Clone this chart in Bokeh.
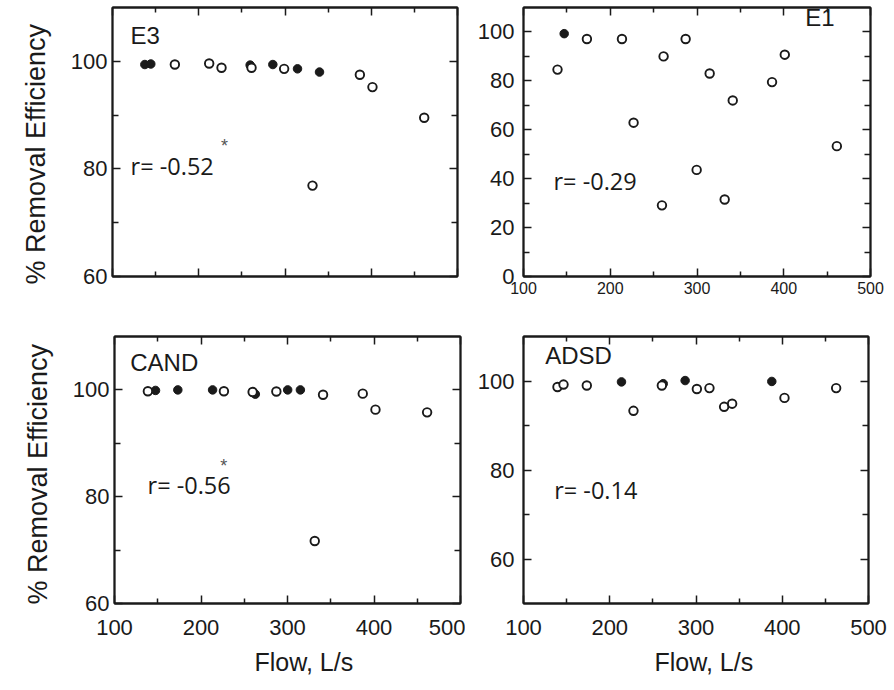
from bokeh.plotting import figure
from bokeh.layouts import column, row
from bokeh.models import FixedTicker, LinearAxis, Label, CustomJSTickFormatter, Title
from bokeh.embed import file_html
from bokeh.resources import INLINE

# ---------------- data ----------------
e3_filled_flow = [137.5, 144.4, 259.6, 285.9, 314.5, 340.0]
e3_filled_eff = [99.4, 99.5, 99.3, 99.4, 98.6, 98.0]
e3_open_flow = [172.3, 212.1, 226.4, 261.2, 299.0, 331.9, 386.8, 401.4, 461.4]
e3_open_eff = [99.4, 99.6, 98.8, 98.8, 98.6, 76.9, 97.5, 95.2, 89.5]

e1_filled_flow = [146.9]
e1_filled_eff = [99.3]
e1_open_flow = [139.2, 173.1, 213.5, 226.9, 259.6, 261.5, 286.9, 299.6, 314.6,
                331.9, 341.2, 386.5, 401.2, 461.2]
e1_open_eff = [84.6, 97.1, 97.1, 62.9, 29.1, 90.0, 97.1, 43.6, 83.0,
               31.5, 72.0, 79.5, 90.7, 53.3]

cand_filled_flow = [147.4, 173.2, 213.4, 262.8, 300.2, 314.9]
cand_filled_eff = [99.9, 100.0, 100.0, 99.2, 100.0, 100.0]
cand_open_flow = [138.6, 226.5, 259.7, 287.1, 331.5, 341.1, 387.0, 401.7, 461.4]
cand_open_eff = [99.75, 99.75, 99.6, 99.7, 71.7, 99.1, 99.3, 96.3, 95.8]

adsd_filled_flow = [213.6, 262.0, 287.4, 387.9]
adsd_filled_eff = [99.8, 99.4, 100.1, 99.9]
adsd_open_flow = [139.4, 146.4, 173.4, 227.5, 260.4, 301.0, 315.6, 332.6, 341.9, 402.6, 462.5]
adsd_open_eff = [98.65, 99.2, 99.0, 93.3, 99.0, 98.2, 98.4, 94.2, 94.9, 96.2, 98.4]

x_major = [100, 200, 300, 400, 500]
x_minor = [150, 250, 350, 450]

FONT = "Liberation Sans"
BLACK = "#1a1a1a"
LW = 1.8


def make_panel(width, height, lb, rb, tb, bb, ymin, ymajor, yminor,
               xlabels, xlabel_size, xlabel_standoff, xtitle, xtitle_offset,
               ytitle, ytitle_offset):
    p = figure(width=width, height=height, x_range=(100, 500), y_range=(ymin, 110),
               output_backend="svg", toolbar_location=None,
               min_border_left=lb, min_border_right=rb,
               min_border_top=tb, min_border_bottom=bb)
    p.grid.visible = False
    p.outline_line_color = BLACK
    p.outline_line_width = LW
    p.background_fill_color = "white"
    p.border_fill_color = "white"

    xt = FixedTicker(ticks=x_major, minor_ticks=x_minor)
    yt = FixedTicker(ticks=ymajor, minor_ticks=yminor)

    for ax in p.xaxis:
        ax.ticker = xt
        ax.axis_line_color = BLACK
        ax.axis_line_width = LW
        ax.major_tick_in = 8
        ax.major_tick_out = 0
        ax.minor_tick_in = 5
        ax.minor_tick_out = 0
        ax.major_tick_line_width = 1.5
        ax.minor_tick_line_width = 1.5
        ax.major_tick_line_color = BLACK
        ax.minor_tick_line_color = BLACK
        if xlabels:
            ax.major_label_text_font = FONT
            ax.major_label_text_font_size = xlabel_size
            ax.major_label_text_color = BLACK
            ax.major_label_standoff = xlabel_standoff
        else:
            ax.formatter = CustomJSTickFormatter(code="return ''")
            ax.major_label_standoff = 0

    if xtitle:
        p.add_layout(Title(text=xtitle, align="left", offset=xtitle_offset, standoff=16,
                           text_font=FONT, text_font_size="25px",
                           text_font_style="normal", text_color=BLACK), "below")

    for ax in p.yaxis:
        ax.ticker = yt
        ax.axis_line_color = BLACK
        ax.axis_line_width = LW
        ax.major_tick_in = 8
        ax.major_tick_out = 0
        ax.minor_tick_in = 6
        ax.minor_tick_out = 0
        ax.major_tick_line_width = 1.5
        ax.minor_tick_line_width = 1.5
        ax.major_tick_line_color = BLACK
        ax.minor_tick_line_color = BLACK
        ax.major_label_text_font = FONT
        ax.major_label_text_font_size = "22px"
        ax.major_label_text_color = BLACK
        ax.major_label_standoff = 5 if ytitle else 9

    if ytitle:
        p.add_layout(Title(text=ytitle, align="left", offset=ytitle_offset, standoff=33,
                           text_font=FONT, text_font_size="27px",
                           text_font_style="normal", text_color=BLACK), "left")

    # mirrored tick axes (top and right), no labels
    top = LinearAxis(ticker=xt, formatter=CustomJSTickFormatter(code="return ''"),
                     major_tick_in=8, major_tick_out=0, minor_tick_in=5, minor_tick_out=0,
                     major_label_standoff=0, axis_line_color=BLACK, axis_line_width=LW,
                     major_tick_line_width=1.5, minor_tick_line_width=1.5,
                     major_tick_line_color=BLACK, minor_tick_line_color=BLACK)
    right = LinearAxis(ticker=yt, formatter=CustomJSTickFormatter(code="return ''"),
                       major_tick_in=8, major_tick_out=0, minor_tick_in=6, minor_tick_out=0,
                       major_label_standoff=0, axis_line_color=BLACK, axis_line_width=LW,
                       major_tick_line_width=1.5, minor_tick_line_width=1.5,
                       major_tick_line_color=BLACK, minor_tick_line_color=BLACK)
    p.add_layout(top, "above")
    p.add_layout(right, "right")
    return p


def add_points(p, fx, fy, ox, oy):
    p.scatter(fx, fy, size=8.5, marker="circle", fill_color=BLACK, line_color=BLACK,
              line_width=1)
    p.scatter(ox, oy, size=8.5, marker="circle", fill_color="white", line_color=BLACK,
              line_width=1.9)


def add_text(p, x, y, text, size="24px", font=FONT, color=BLACK, align="left"):
    p.add_layout(Label(x=x, y=y, text=text, text_font=font, text_font_size=size,
                       text_color=color, text_align=align, text_baseline="alphabetic"))


# ---------------- panels ----------------
YT = "% Removal Efficiency"

p_e3 = make_panel(465, 305, 112, 8, 7, 28, 60, [60, 80, 100], [70, 90],
                  False, None, 0, None, 0, YT, -8)
add_points(p_e3, e3_filled_flow, e3_filled_eff, e3_open_flow, e3_open_eff)
add_text(p_e3, 121, 104.8, "E3")
add_text(p_e3, 121, 80.6, "r= -0.52", size="23.5px", font="Open Sans")
add_text(p_e3, 230, 84.3, "*", size="18px", color="#555555", align="center")

p_e1 = make_panel(429, 305, 58, 24, 7, 29, 0, [0, 20, 40, 60, 80, 100],
                  [10, 30, 50, 70, 90], True, "16px", 5, None, 0, None, 0)
add_points(p_e1, e1_filled_flow, e1_filled_eff, e1_open_flow, e1_open_eff)
add_text(p_e1, 424.7, 105.9, "E1")
add_text(p_e1, 134.6, 38.9, "r= -0.29", size="23.5px", font="Open Sans")

p_cand = make_panel(465, 385, 114, 5, 31, 84, 60, [60, 80, 100], [70, 90],
                    True, "22px", 16, "Flow, L/s", 140, YT, -1)
add_points(p_cand, cand_filled_flow, cand_filled_eff, cand_open_flow, cand_open_eff)
add_text(p_cand, 118.2, 105.2, "CAND")
add_text(p_cand, 138.2, 82.2, "r= -0.56", size="23.5px", font="Open Sans")
add_text(p_cand, 226.2, 85.8, "*", size="18px", color="#555555", align="center")

p_adsd = make_panel(429, 385, 58, 26, 28, 87, 50, [60, 80, 100], [70, 90],
                    True, "22px", 16, "Flow, L/s", 131, None, 0)
add_points(p_adsd, adsd_filled_flow, adsd_filled_eff, adsd_open_flow, adsd_open_eff)
add_text(p_adsd, 125.2, 105.7, "ADSD")
add_text(p_adsd, 135.6, 75.6, "r= -0.14", size="23.5px", font="Open Sans")

layout = column(row(p_e3, p_e1), row(p_cand, p_adsd))

open("out.html", "w").write(file_html(layout, INLINE))
